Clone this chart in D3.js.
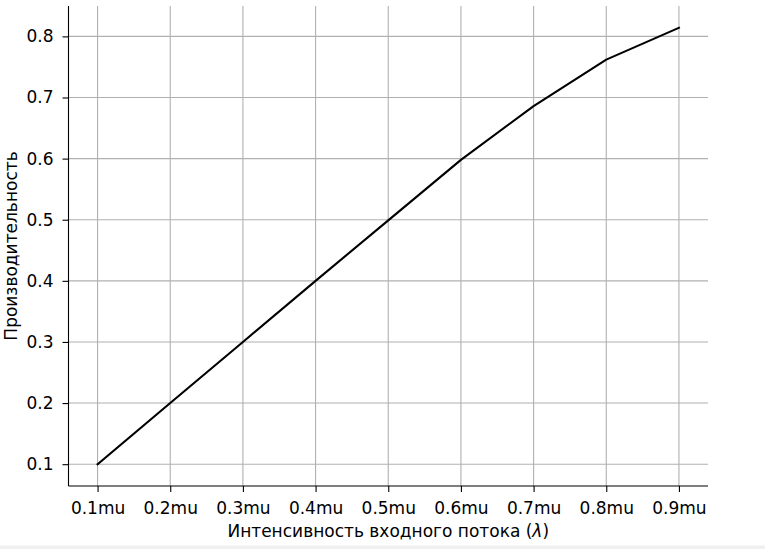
<!DOCTYPE html>
<html><head><meta charset="utf-8">
<script src="https://cdn.jsdelivr.net/npm/d3@7"></script>
<style>html,body{margin:0;padding:0;background:#fff;}svg{display:block;}</style>
</head><body>
<script>
const xValues = [0.1, 0.2, 0.3, 0.4, 0.5, 0.6, 0.7, 0.8, 0.9];
const yValues = [0.1, 0.2, 0.3, 0.4, 0.499, 0.598, 0.686, 0.762, 0.814];
const xTickLabels = ["0.1mu","0.2mu","0.3mu","0.4mu","0.5mu","0.6mu","0.7mu","0.8mu","0.9mu"];
const yTicks = [0.1, 0.2, 0.3, 0.4, 0.5, 0.6, 0.7, 0.8];
const xTitle = "Интенсивность входного потока (";
const xTitleSymbol = "λ";
const yTitle = "Производительность";

(function(){
const W = 765, H = 549;
const mLeft = 68.5, mRight = 708, mTop = 6, mBottom = 486;
const fs = "17px";
const svg = d3.select("body").append("svg").attr("width", W).attr("height", H);
svg.append("rect").attr("x",0).attr("y",545.5).attr("width",W).attr("height",4).attr("fill","#f0f0f0");

const x = d3.scaleLinear().domain([0.06, 0.94]).range([mLeft, mRight]);
const y = d3.scaleLinear().domain([0.0643, 0.8497]).range([mBottom, mTop]);
const font = "DejaVu Sans, sans-serif";

const g = svg.append("g");
g.selectAll(".vx").data(xValues).enter().append("line")
  .attr("x1", d => x(d)).attr("x2", d => x(d)).attr("y1", mTop).attr("y2", mBottom)
  .attr("stroke", "#b0b0b0").attr("stroke-width", 1.1);
g.selectAll(".hy").data(yTicks).enter().append("line")
  .attr("x1", mLeft).attr("x2", mRight).attr("y1", d => y(d)).attr("y2", d => y(d))
  .attr("stroke", "#b0b0b0").attr("stroke-width", 1.1);

const line = d3.line().x((d,i) => x(xValues[i])).y(d => y(d));
svg.append("path").datum(yValues).attr("d", line)
  .attr("fill","none").attr("stroke","#000").attr("stroke-width",2.1).attr("stroke-linejoin","round").attr("stroke-linecap","square");

const xAxis = d3.axisBottom(x).tickValues(xValues).tickFormat((d,i) => xTickLabels[i]).tickSize(6).tickPadding(9.5);
const gx = svg.append("g").attr("transform", `translate(0,${mBottom})`).call(xAxis);
const yAxis = d3.axisLeft(y).tickValues(yTicks).tickFormat(d3.format(".1f")).tickSize(6).tickPadding(9);
const gy = svg.append("g").attr("transform", `translate(${mLeft},0)`).call(yAxis);
[gx, gy].forEach(a => {
  a.select(".domain").remove();
  a.selectAll(".tick line").attr("stroke","#000").attr("stroke-width",1.1);
  a.selectAll(".tick text").attr("fill","#000").style("font-family", font).style("font-size",fs);
});
svg.append("line").attr("x1",mLeft).attr("x2",mLeft).attr("y1",mTop).attr("y2",mBottom).attr("stroke","#000").attr("stroke-width",1.1);
svg.append("line").attr("x1",mLeft).attr("x2",mRight).attr("y1",mBottom).attr("y2",mBottom).attr("stroke","#000").attr("stroke-width",1.1);

const xt = svg.append("text").attr("x",(mLeft+mRight)/2).attr("y",537).attr("text-anchor","middle")
  .style("font-family",font).style("font-size",fs).attr("fill","#000");
xt.append("tspan").text(xTitle);
xt.append("tspan").style("font-style","italic").text(xTitleSymbol);
xt.append("tspan").text(")");
svg.append("text").attr("transform",`translate(17,${(mTop+mBottom)/2}) rotate(-90)`).attr("text-anchor","middle")
  .style("font-family",font).style("font-size",fs).attr("fill","#000").text(yTitle);
})();
</script>
</body></html>
